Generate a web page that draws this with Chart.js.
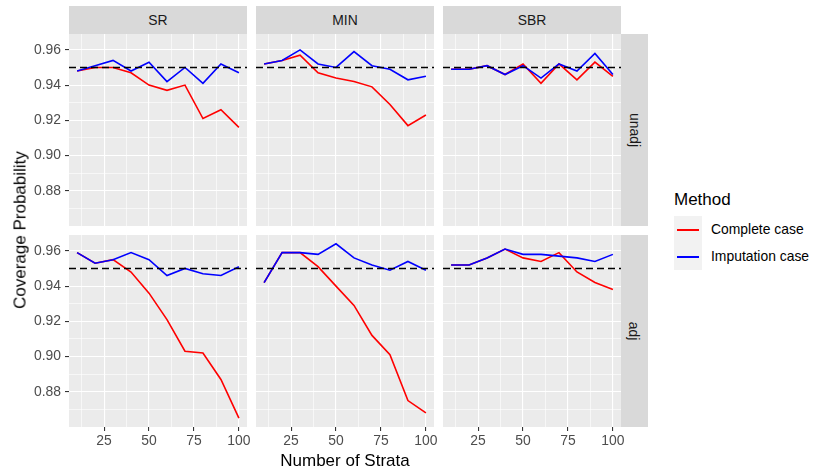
<!DOCTYPE html>
<html>
<head>
<meta charset="utf-8">
<script src="https://cdn.jsdelivr.net/npm/chart.js@4.4.0/dist/chart.umd.min.js"></script>
<style>
body { margin: 0; background: #fff; }
#fig { position: relative; width: 814px; height: 473px; overflow: hidden;
       font-family: "Liberation Sans", Arial, sans-serif; }
.box { position: absolute; }
.strip { position: absolute; background: #D9D9D9; color: #1A1A1A; font-size: 13.9px;
         display: flex; align-items: center; justify-content: center; }
.lbl { position: absolute; white-space: nowrap; line-height: 1; }
</style>
</head>
<body>
<div id="fig"></div>
<script>
// x values and facet labels
const strata = [10, 20, 30, 40, 50, 60, 70, 80, 90, 100];
const facetCols = ['SR', 'MIN', 'SBR'];
const facetRows = ['unadj', 'adj'];
const seriesNames = ['Complete case', 'Imputation case'];
const seriesColors = ['#FF0000', '#0000FF'];
const refLevel = 0.95;

// coverage probability
const srUnadjComplete  = [0.948, 0.950, 0.950, 0.947, 0.940, 0.937, 0.940, 0.921, 0.926, 0.916];
const srUnadjImpute    = [0.948, 0.951, 0.954, 0.948, 0.953, 0.942, 0.950, 0.941, 0.952, 0.947];
const minUnadjComplete = [0.952, 0.954, 0.957, 0.947, 0.944, 0.942, 0.939, 0.929, 0.917, 0.923];
const minUnadjImpute   = [0.952, 0.954, 0.960, 0.952, 0.950, 0.959, 0.951, 0.949, 0.943, 0.945];
const sbrUnadjComplete = [0.949, 0.949, 0.951, 0.946, 0.952, 0.941, 0.952, 0.943, 0.953, 0.945];
const sbrUnadjImpute   = [0.949, 0.949, 0.951, 0.946, 0.951, 0.944, 0.952, 0.948, 0.958, 0.946];
const srAdjComplete    = [0.959, 0.953, 0.955, 0.948, 0.936, 0.921, 0.903, 0.902, 0.887, 0.865];
const srAdjImpute      = [0.959, 0.953, 0.955, 0.959, 0.955, 0.946, 0.950, 0.947, 0.946, 0.951];
const minAdjComplete   = [0.942, 0.959, 0.959, 0.951, 0.940, 0.929, 0.912, 0.901, 0.875, 0.868];
const minAdjImpute     = [0.942, 0.959, 0.959, 0.958, 0.964, 0.956, 0.952, 0.949, 0.954, 0.949];
const sbrAdjComplete   = [0.952, 0.952, 0.956, 0.961, 0.956, 0.954, 0.959, 0.948, 0.942, 0.938];
const sbrAdjImpute     = [0.952, 0.952, 0.956, 0.961, 0.958, 0.958, 0.957, 0.956, 0.954, 0.958];

// ticks
const yTicks = [0.87, 0.88, 0.89, 0.90, 0.91, 0.92, 0.93, 0.94, 0.95, 0.96];
const yLabeled = [0.88, 0.90, 0.92, 0.94, 0.96];
const xTicks = [12.5, 25, 37.5, 50, 62.5, 75, 87.5, 100];
const xLabeled = [25, 50, 75, 100];
const yRange = [0.860, 0.969];
const xRange = [5.5, 104.5];

const table = {
  unadj: { SR: [srUnadjComplete, srUnadjImpute], MIN: [minUnadjComplete, minUnadjImpute], SBR: [sbrUnadjComplete, sbrUnadjImpute] },
  adj:   { SR: [srAdjComplete, srAdjImpute],     MIN: [minAdjComplete, minAdjImpute],     SBR: [sbrAdjComplete, sbrAdjImpute] }
};

Chart.defaults.font.family = '"Liberation Sans", Arial, sans-serif';

const fig = document.getElementById('fig');
const colLeft = [69, 256, 443], panelW = 178;
const rowTop = [34, 235], panelH = 192;

const isIn = (list, v) => list.some(m => Math.abs(m - v) < 1e-9);

const panelBg = {
  id: 'panelBg',
  beforeDraw(chart) {
    const a = chart.chartArea, ctx = chart.ctx;
    ctx.save();
    ctx.fillStyle = '#EBEBEB';
    ctx.fillRect(a.left, a.top, a.right - a.left, a.bottom - a.top);
    ctx.restore();
  }
};

// no label padding, so every panel keeps the same plot area
const noPad = s => { s.paddingTop = 0; s.paddingBottom = 0; s.paddingLeft = 0; s.paddingRight = 0; };

function addText(txt, css) {
  const d = document.createElement('div');
  d.className = 'lbl';
  d.textContent = txt;
  Object.assign(d.style, css);
  fig.appendChild(d);
  return d;
}

facetRows.forEach((row, r) => {
  facetCols.forEach((col, c) => {
    const padL = c === 0 ? colLeft[0] : 0;
    const padB = r === 1 ? 30 : 0;
    const padR = r === 1 ? 10 : 0;
    const box = document.createElement('div');
    box.className = 'box';
    Object.assign(box.style, {
      left: (colLeft[c] - padL) + 'px', top: rowTop[r] + 'px',
      width: (panelW + padL + padR) + 'px', height: (panelH + padB) + 'px'
    });
    const cv = document.createElement('canvas');
    box.appendChild(cv);
    fig.appendChild(box);

    const vals = table[row][col];
    const datasets = [
      { label: 'ref', data: [{ x: xRange[0], y: refLevel }, { x: xRange[1], y: refLevel }],
        borderColor: '#000', borderWidth: 1.4, borderDash: [7, 4], pointRadius: 0 },
      { label: seriesNames[1], data: strata.map((x, i) => ({ x, y: vals[1][i] })),
        borderColor: seriesColors[1], borderWidth: 1.6, pointRadius: 0 },
      { label: seriesNames[0], data: strata.map((x, i) => ({ x, y: vals[0][i] })),
        borderColor: seriesColors[0], borderWidth: 1.6, pointRadius: 0 }
    ];

    new Chart(cv, {
      type: 'line',
      data: { datasets },
      plugins: [panelBg],
      options: {
        responsive: true, maintainAspectRatio: false, animation: false,
        layout: { autoPadding: false, padding: { left: 0, right: padR, top: 0, bottom: 0 } },
        plugins: { legend: { display: false }, tooltip: { enabled: false } },
        scales: {
          x: {
            type: 'linear', min: xRange[0], max: xRange[1],
            afterBuildTicks: s => { s.ticks = xTicks.map(v => ({ value: v })); },
            afterFit: s => { s.height = padB; noPad(s); },
            border: { display: false },
            grid: {
              color: '#FFFFFF', drawTicks: r === 1, tickLength: 4, tickWidth: 1.1,
              lineWidth: ctx => isIn(xLabeled, ctx.tick.value) ? 1.1 : 0.6,
              tickColor: ctx => isIn(xLabeled, ctx.tick.value) ? '#333333' : 'rgba(0,0,0,0)'
            },
            ticks: {
              display: r === 1, autoSkip: false, maxRotation: 0, padding: 2,
              color: '#4D4D4D', font: { size: 13.9 },
              callback: v => isIn(xLabeled, v) ? String(v) : ''
            }
          },
          y: {
            type: 'linear', min: yRange[0], max: yRange[1],
            afterBuildTicks: s => { s.ticks = yTicks.map(v => ({ value: v })); },
            afterFit: s => { s.width = padL; noPad(s); },
            border: { display: false },
            grid: {
              color: '#FFFFFF', drawTicks: c === 0, tickLength: 4, tickWidth: 1.1,
              lineWidth: ctx => isIn(yLabeled, ctx.tick.value) ? 1.1 : 0.6,
              tickColor: ctx => isIn(yLabeled, ctx.tick.value) ? '#333333' : 'rgba(0,0,0,0)'
            },
            ticks: {
              display: c === 0, autoSkip: false, padding: 4,
              color: '#4D4D4D', font: { size: 13.9 },
              callback: v => isIn(yLabeled, v) ? v.toFixed(2) : ''
            }
          }
        }
      }
    });
  });
});

// facet strips
facetCols.forEach((col, c) => {
  const s = document.createElement('div');
  s.className = 'strip';
  Object.assign(s.style, { left: colLeft[c] + 'px', top: '6px', width: panelW + 'px', height: '28px' });
  s.textContent = col;
  fig.appendChild(s);
});
facetRows.forEach((row, r) => {
  const s = document.createElement('div');
  s.className = 'strip';
  Object.assign(s.style, { left: '621px', top: rowTop[r] + 'px', width: '27px', height: panelH + 'px' });
  const t = document.createElement('span');
  t.textContent = row;
  t.style.transform = 'rotate(90deg)';
  t.style.whiteSpace = 'nowrap';
  t.style.display = 'inline-block';
  s.appendChild(t);
  fig.appendChild(s);
});

// axis titles
addText('Number of Strata', { left: '345px', top: '460px', fontSize: '17px', color: '#000',
  transform: 'translate(-50%, -50%)' });
addText('Coverage Probability', { left: '20px', top: '230px', fontSize: '17px', color: '#000',
  transform: 'translate(-50%, -50%) rotate(-90deg)' });

// legend
addText('Method', { left: '674px', top: '191px', fontSize: '17px', color: '#000' });
seriesNames.forEach((name, i) => {
  const y = 216 + i * 27;
  const key = document.createElement('div');
  Object.assign(key.style, { position: 'absolute', left: '674px', top: y + 'px', width: '28px',
    height: '27px', background: '#F2F2F2' });
  const ln = document.createElement('div');
  Object.assign(ln.style, { position: 'absolute', left: '3px', top: '13px', width: '22px',
    height: '2px', background: seriesColors[i] });
  key.appendChild(ln);
  fig.appendChild(key);
  addText(name, { left: '711px', top: (y + 14) + 'px', fontSize: '13.9px', color: '#000',
    transform: 'translateY(-50%)' });
});
</script>
</body>
</html>
